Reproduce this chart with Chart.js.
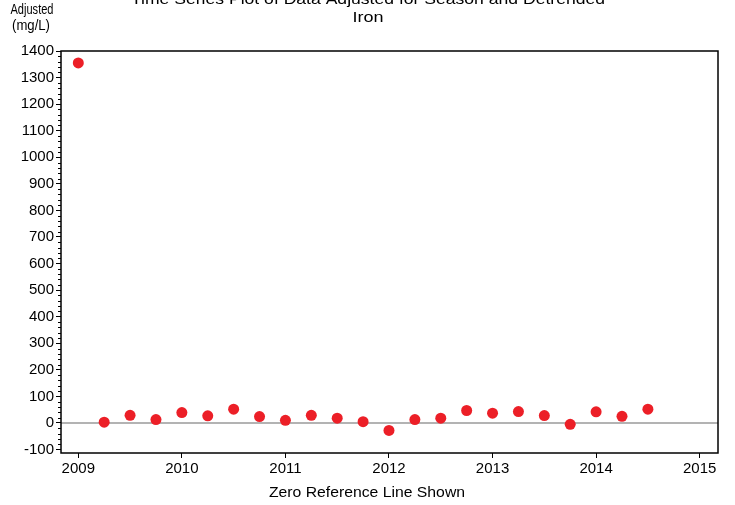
<!DOCTYPE html>
<html>
<head>
<meta charset="utf-8">
<script src="https://cdn.jsdelivr.net/npm/chart.js@4"></script>
<style>
  body { margin: 0; background: #fff; }
  #wrap { width: 735px; height: 505px; }
</style>
</head>
<body>
<div id="wrap"><canvas id="chart" width="735" height="505"></canvas></div>
<script>
// quarterly sample dates (decimal years) and adjusted iron values (mg/L)
const fechas = [2009, 2009.25, 2009.5, 2009.75, 2010, 2010.25, 2010.5, 2010.75,
                2011, 2011.25, 2011.5, 2011.75, 2012, 2012.25, 2012.5, 2012.75,
                2013, 2013.25, 2013.5, 2013.75, 2014, 2014.25, 2014.5];
const ajustados = [1355, 3, 29, 13, 39, 27, 52, 24,
                   10, 29, 18, 5, -28, 13, 18, 47,
                   37, 43, 28, -5, 42, 25, 52];
const anios = [2009, 2010, 2011, 2012, 2013, 2014, 2015];
const ticksY = [-100, 0, 100, 200, 300, 400, 500, 600, 700, 800, 900, 1000, 1100, 1200, 1300, 1400];
const xMin = 2008.833, xMax = 2015.177;
const yMin = -113, yMax = 1400;

const ctx = document.getElementById('chart').getContext('2d');
const FONT = 'Liberation Sans, Arial, sans-serif';

// draw text centered at x, stretched horizontally to a given width
function textoAncho(c, texto, x, y, ancho) {
  const w = c.measureText(texto).width;
  c.save();
  c.translate(x, y);
  c.scale(ancho / w, 1);
  c.fillText(texto, 0, 0);
  c.restore();
}

// frame, minor ticks and free-positioned texts
const extras = {
  id: 'extras',
  afterDraw(chart) {
    const c = chart.ctx;
    const a = chart.chartArea;
    const y = chart.scales.y;
    c.save();
    // minor y ticks every 20
    c.strokeStyle = '#000';
    c.lineWidth = 1;
    for (let v = -100; v <= 1400; v += 20) {
      if (v % 100 === 0) continue;
      const py = Math.round(y.getPixelForValue(v)) + 0.5;
      c.beginPath();
      c.moveTo(a.left - 3, py);
      c.lineTo(a.left, py);
      c.stroke();
    }
    // frame
    c.lineWidth = 1.5;
    c.strokeRect(a.left, a.top, a.right - a.left, a.bottom - a.top);
    // texts
    c.fillStyle = '#000';
    c.textAlign = 'center';
    c.textBaseline = 'middle';
    c.font = '15px ' + FONT;
    textoAncho(c, 'Time Series Plot of Data Adjusted for Season and Detrended', 368, 0, 474);
    textoAncho(c, 'Iron', 368, 18, 31);
    c.font = '14px ' + FONT;
    c.fillText('Adjusted', 32, 10, 43);
    c.fillText('(mg/L)', 31, 26, 38);
    c.font = '15px ' + FONT;
    textoAncho(c, 'Zero Reference Line Shown', 367, 493, 196);
    c.restore();
  }
};

const myChart = new Chart(ctx, {
  type: 'scatter',
  data: {
    datasets: [{
      label: 'Adjusted',
      data: fechas.map((f, i) => ({ x: f, y: ajustados[i] })),
      backgroundColor: '#ec1f27',
      borderColor: '#ec1f27',
      pointRadius: 5.5,
      pointBorderWidth: 0,
      order: 0
    }, {
      label: 'Zero',
      type: 'line',
      data: [{ x: xMin, y: 0 }, { x: xMax, y: 0 }],
      borderColor: '#9a9a9a',
      borderWidth: 1.5,
      pointRadius: 0,
      order: 1
    }]
  },
  options: {
    responsive: false,
    animation: false,
    layout: { padding: { top: 51, right: 17, left: 0, bottom: 0 } },
    plugins: {
      legend: { display: false },
      tooltip: { enabled: false }
    },
    scales: {
      x: {
        type: 'linear',
        min: xMin,
        max: xMax,
        afterBuildTicks: s => { s.ticks = anios.map(v => ({ value: v })); },
        afterFit: s => { s.height = 52; },
        border: { display: false },
        grid: { drawOnChartArea: false, tickLength: 5, color: '#000', lineWidth: 1 },
        ticks: {
          color: '#000',
          padding: 2,
          maxRotation: 0,
          font: { family: FONT, size: 15 },
          callback: v => String(v)
        }
      },
      y: {
        min: yMin,
        max: yMax,
        afterBuildTicks: s => { s.ticks = ticksY.map(v => ({ value: v })); },
        afterFit: s => { s.width = 61; },
        border: { display: false },
        grid: { drawOnChartArea: false, tickLength: 5, color: '#000', lineWidth: 1 },
        ticks: {
          color: '#000',
          padding: 2,
          font: { family: FONT, size: 15 },
          callback: v => String(v)
        }
      }
    }
  },
  plugins: [extras]
});
</script>
</body>
</html>
